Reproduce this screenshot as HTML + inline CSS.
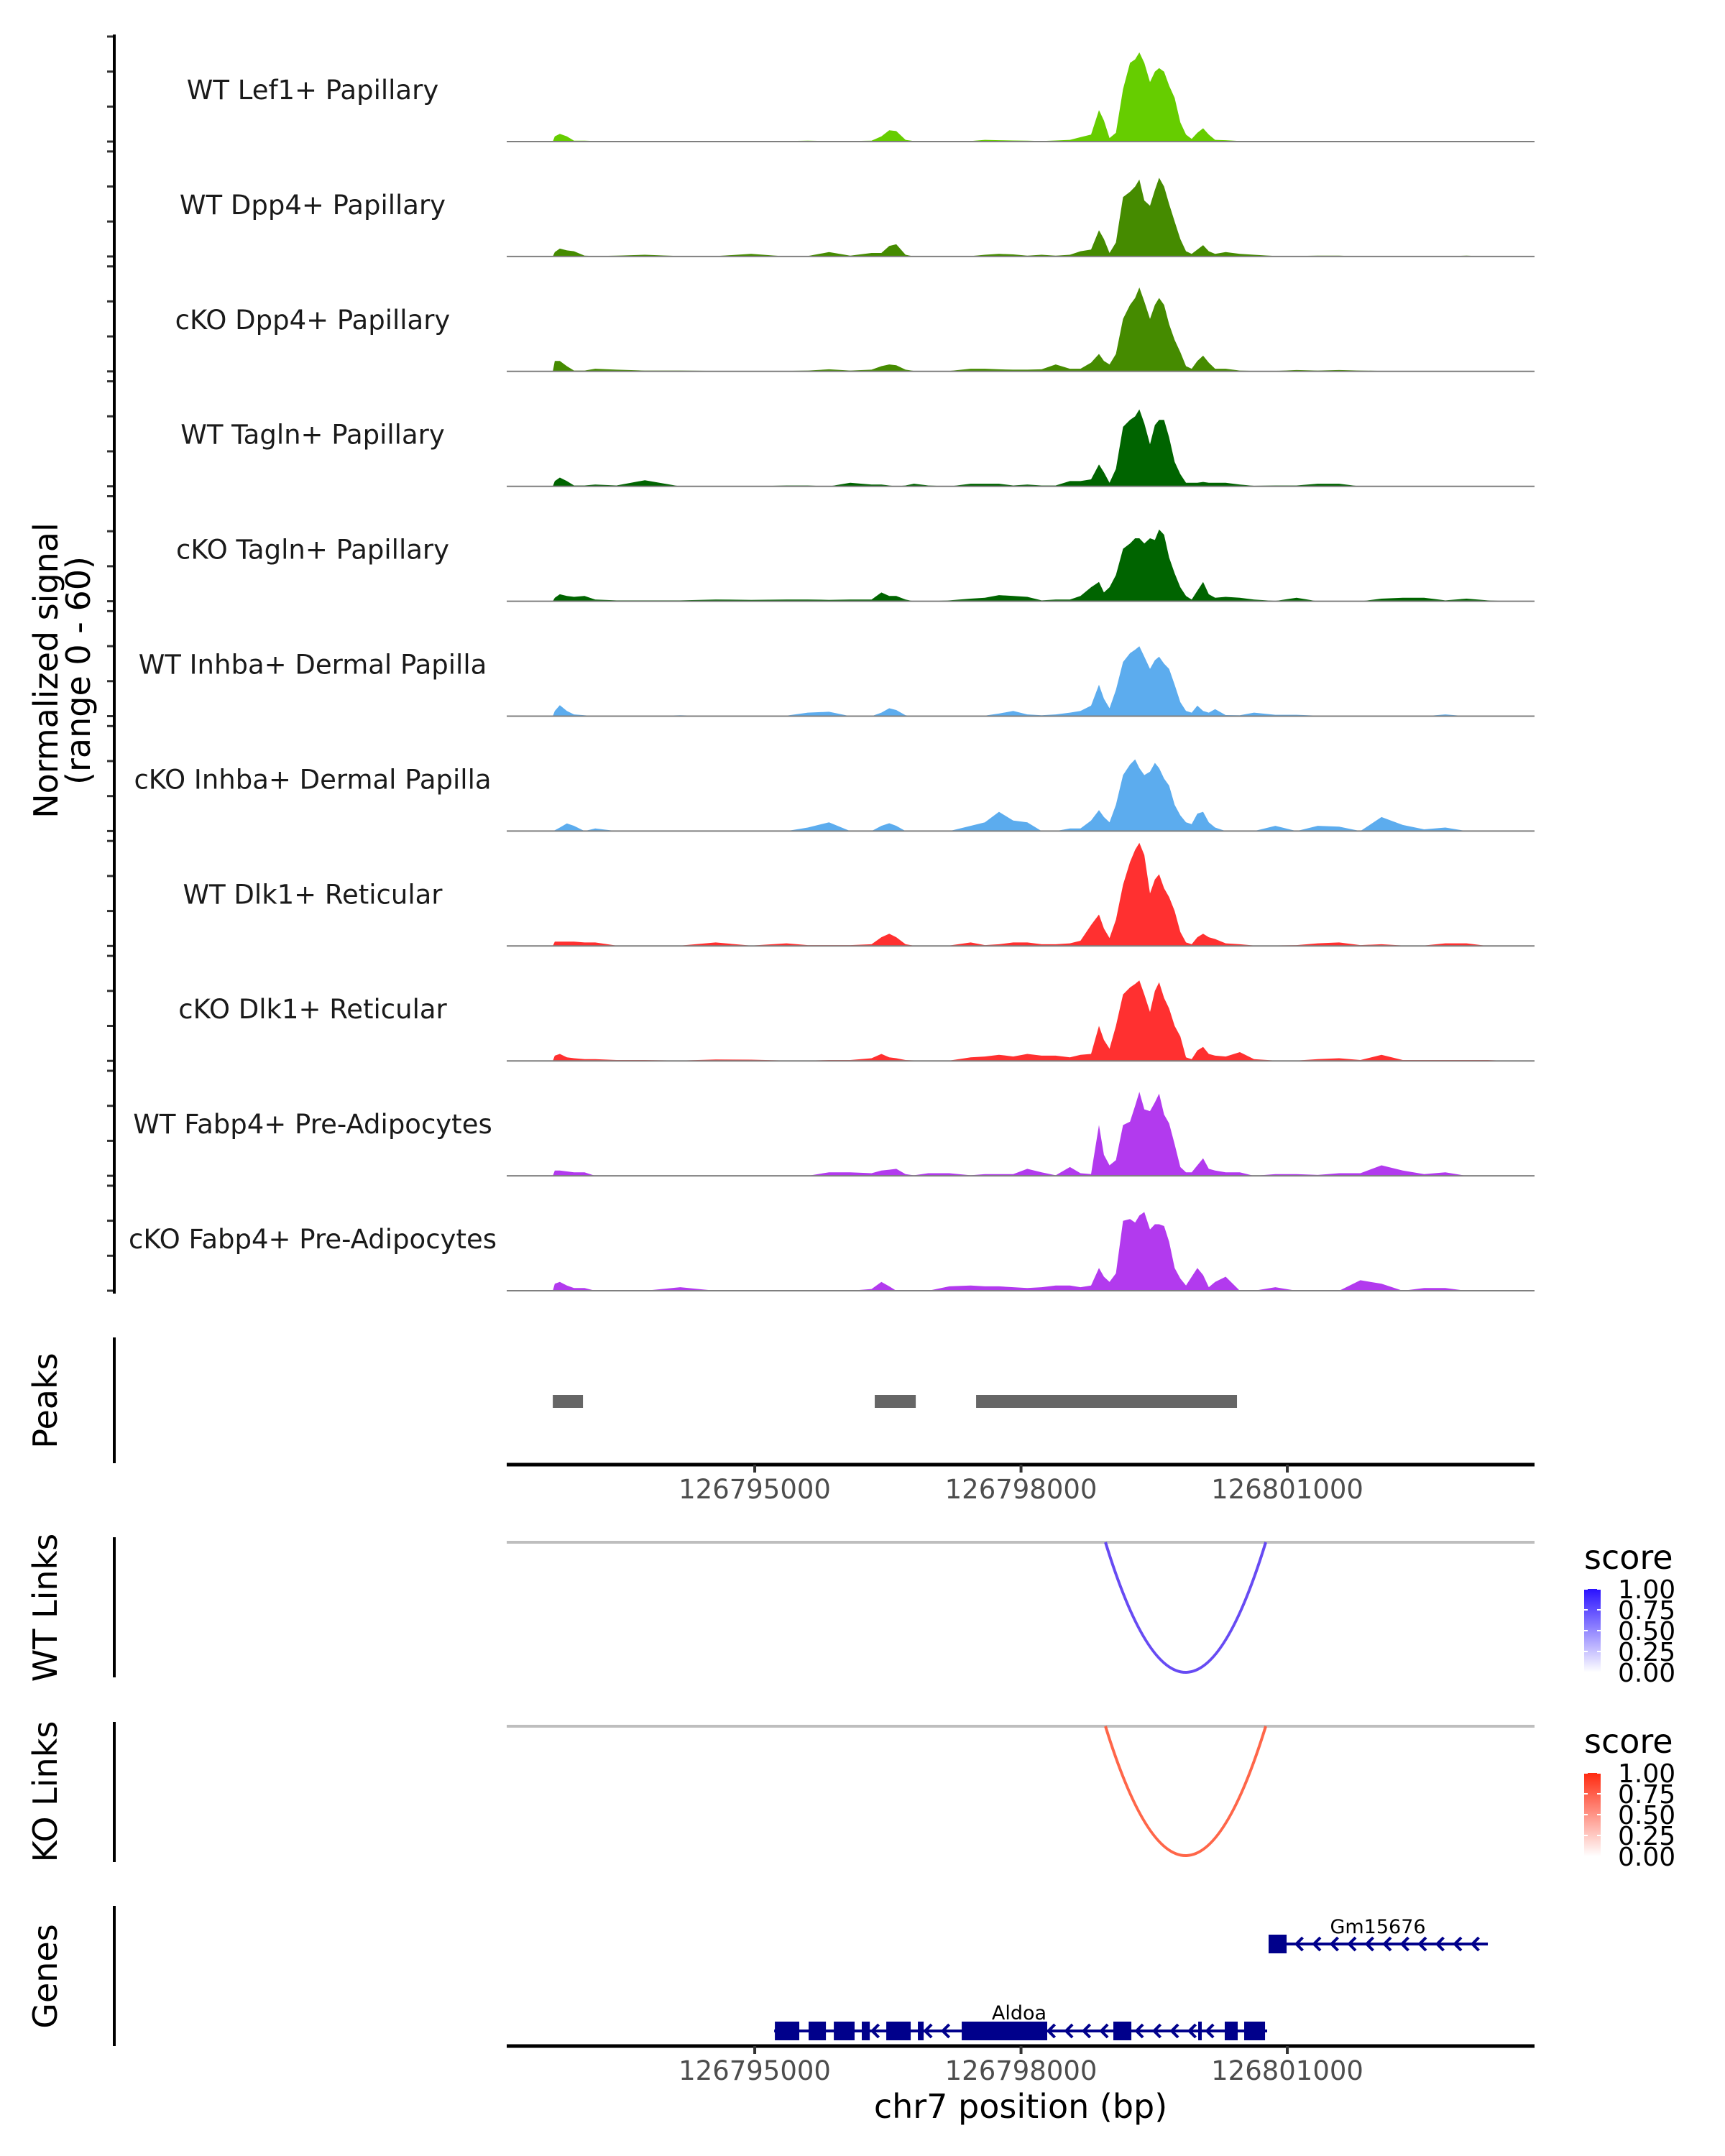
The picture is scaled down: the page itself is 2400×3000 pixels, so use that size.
<!DOCTYPE html>
<html><head><meta charset="utf-8"><style>
html,body{margin:0;padding:0;background:#fff}
svg{display:block}
text{font-family:"DejaVu Sans","Liberation Sans",sans-serif}
</style></head><body>
<svg id="chart" width="2400" height="3000" viewBox="0 0 2400 3000" xmlns="http://www.w3.org/2000/svg"></svg>
<script>
const positions=[126792210,126792725,126792748,126792804,126792884,126792964,126793083,126793203,126793443,126793762,126794161,126794560,126794959,126795358,126795598,126795837,126796076,126796316,126796427,126796515,126796595,126796699,126796794,126796955,126797193,126797433,126797593,126797752,126797912,126798071,126798232,126798391,126798551,126798670,126798789,126798878,126798934,126798997,126799069,126799149,126799228,126799285,126799333,126799389,126799453,126799508,126799556,126799612,126799668,126799731,126799795,126799859,126799923,126799987,126800051,126800115,126800187,126800306,126800465,126800625,126800865,126801104,126801343,126801583,126801823,126802061,126802301,126802541,126802780,126803019,126803259,126803499,126803785];
const trackNames=["WT Lef1+ Papillary","WT Dpp4+ Papillary","cKO Dpp4+ Papillary","WT Tagln+ Papillary","cKO Tagln+ Papillary","WT Inhba+ Dermal Papilla","cKO Inhba+ Dermal Papilla","WT Dlk1+ Reticular","cKO Dlk1+ Reticular","WT Fabp4+ Pre-Adipocytes","cKO Fabp4+ Pre-Adipocytes"];
const trackColors=["#66CD00","#458B00","#458B00","#006400","#006400","#5CACEE","#5CACEE","#FF3030","#FF3030","#B23AEE","#B23AEE"];
const sigLef1WT=[0,0,3,4.4,3,0.5,0.5,0.3,0.3,0.2,0.2,0,0.2,0.3,0.5,0.3,0.3,0.5,3,6.5,6,1,0.3,0.2,0.3,0.3,1,0.8,0.6,0.5,0.3,0.6,1,2.5,4,18,12,2,5,30,45,47,51,45,34,40,42,40,32,25,11,4,1.5,5,7.6,4,1,0.8,0.3,0.2,0.2,0.2,0.2,0.2,0.2,0.2,0.2,0.2,0.2,0,0,0,0];
const sigDpp4WT=[0,0,2.5,4.5,3.5,3,0.5,0.2,0.5,1,0.2,0.2,1.5,0,0.3,2.5,0.5,2,2,6,7,1,0,0,0,0.2,1,1.5,1.2,0.5,1,0.5,1,3,4,15,10,2,8,34,37,40,44,32,29,38,45,40,30,20,10,3,1.5,4,6.5,3,1.5,2.5,1.5,1,0.3,0.3,0.5,0.5,0,0,0,0,0,0.5,0,0,0];
const sigDpp4KO=[0,0,6,6,3,0.5,0.5,1.5,1,0.5,0.5,0.3,0.3,0.3,0.5,1.2,0.5,1,3,4,3.5,1,0.3,0.3,0.3,1.5,1.5,1.2,1,1,1.2,4,1.5,1.5,5,10,6,4,10,30,38,42,48,40,30,38,42,38,27,18,11,3,1.5,6,9,5,1.5,1.5,0.5,0.3,0.3,0.8,0.5,0.8,0.5,0.3,0.3,0.2,0.2,0.2,0,0,0];
const sigTaglnWT=[0,0,3,5,3,0.5,0.5,1,0.5,3.5,0,0,0,0.5,0.5,0,2,1,1,0.5,0,0.5,1.5,0.5,0,1.5,1.5,1.5,0.5,1,0.5,0.5,3,3,4,12.5,8,2,10,34,38,40,44,36,24,35,38,38,28,14,7,2,2,2,2.5,2,2,2,1,0.3,0.5,0.5,1.5,1.5,0,0,0,0,0,0,0,0,0];
const sigTaglnKO=[0,0,2,4,3,2.5,3,1,0.5,0.5,0.5,1,0.8,1,1,0.8,1,1,5,3,3,1,0,0,0.5,1.5,2,3.5,3,2.5,0.5,1,1,3,8,11,5,8,15,30,33,36,36,33,36,35,41,38,25,16,8,3,1,6,11,4,2,2.5,2,1,0.2,2,0,0,0,1.5,2,2,0.5,1.5,0.5,0,0];
const sigInhbaWT=[0,0,3,6.3,3,1,0.5,0,0,0,0.5,0,0,0.3,2,2.5,0,0,2,4.5,3.5,0.5,0,0.3,0.3,0,0.3,1.5,3,1,0.5,1,2,3,6,18,10,4.5,15,31,36,38,40,34,27,32,34,30,27,18,8,3,2,6,3,2,4,0.6,0.5,2,0.8,0.8,0.3,0,0.4,0,0,0,1,0,0,0,0];
const sigInhbaKO=[0,0,0.5,2,4.4,3,0,1.5,0,0,0,0,0,0,2,5,0,0,3,4.5,3,0,0,0,0,3,5,11,6,5,0,0,1.5,1.5,6,12,8,5,15,32,38,41,36,32,34,39,36,30,26,15,9,5,4,10,11,5,2,0,0,0,3,0,3,2.5,0,8,3.5,1,2,0,0,0,0];
const sigDlk1WT=[0,0,2.5,2.5,2.5,2.5,2,2,0.2,0.2,0.2,2,0.2,1.5,0.5,0.5,0.5,1,5,7,5,1,0.2,0.2,0.3,2,0.5,1,2,2,1,1,1.5,3,12,18,10,4.5,15,35,48,55,59,52,30,38,41,33,28,20,8,2,1,5,7,5,4,1.5,1,0.3,0.3,0.5,1.5,2,0.5,1,0.3,0.3,1.5,1.5,0,0,0];
const sigDlk1KO=[0,0,3,4,2,1.5,1,1,0.5,0.5,0.2,0.8,0.7,0.2,0.2,0.5,0.5,1.5,4,2,1.5,0.5,0.3,0.3,0.2,2,2.5,3.5,2.5,4,3,3,2,3.5,4,20,12,7,20,38,42,44,46,38,28,40,45,36,30,20,14,2,1,6,8,4,3,2.5,5,1,0.2,0.2,1,1.5,0.5,3.5,0.5,0.5,0.5,0.5,0.5,0,0];
const sigFabp4WT=[0,0,3,3,2.5,2,2,0,0,0,0,0,0,0,0,2,2,1.5,3,3.5,4,1,0.3,1.5,1.5,0.3,1,1,1,4,2,0.3,5,1.5,1,29,12,6,9,29,31,40,48,38,37,42,47,35,30,18,5,2,2,6,10,4,3,2,2,0,1,1,0.5,1.5,1.5,6,3,1,2,0,0,0,0];
const sigFabp4KO=[0,0,4,5,3,1.5,1.5,0,0,0,2,0,0,0,0,0,0,1,5,2.5,0,0,0,0,2.5,3,2.5,2.5,2,1.5,2,3,3,2,3,13,8,5,10,40,41,39,43,45,35,38,38,37,28,13,7,3,8,13,9,2,5,8,0,0,2,0,0,0,6,4,0,1.5,1.5,0,0,0,0];
const signals=[sigLef1WT,sigDpp4WT,sigDpp4KO,sigTaglnWT,sigTaglnKO,sigInhbaWT,sigInhbaKO,sigDlk1WT,sigDlk1KO,sigFabp4WT,sigFabp4KO];
const xTickValues=[126795000,126798000,126801000];
const xTickLabels=["126795000","126798000","126801000"];
const peakStarts=[126792725,126796352,126797494];
const peakEnds=[126793065,126796814,126800433];
const linkStarts=[126798951];
const linkEnds=[126800757];
const wtLinkScores=[0.85];
const koLinkScores=[0.85];
const legendTicks=["1.00","0.75","0.50","0.25","0.00"];
const geneNames=["Aldoa","Gm15676"];
const aldoaExonStarts=[126795227,126795607,126795891,126796206,126796482,126796838,126797332,126799040,126799996,126800295,126800514];
const aldoaExonEnds=[126795502,126795802,126796125,126796296,126796757,126796903,126798295,126799243,126800036,126800441,126800749];
const geneStarts=[126795219,126800789];
const geneEnds=[126800773,126803259];
const gmExonStarts=[126800789];
const gmExonEnds=[126800992];

const NS='http://www.w3.org/2000/svg';
const svg=document.getElementById('chart');
const X0=705,X1=2135,BP0=126792206,BP1=126803785;
function xs(bp){return X0+(bp-BP0)*(X1-X0)/(BP1-BP0);}
const UNIT=146/60;
function mk(tag,attrs,parent){const e=document.createElementNS(NS,tag);for(const k in attrs)e.setAttribute(k,attrs[k]);(parent||svg).appendChild(e);return e;}
function txt(s,attrs,parent){const e=mk('text',attrs,parent);e.textContent=s;return e;}

const baseY=i=>197+159.9*i;
for(let t=0;t<11;t++){
  const by=baseY(t);
  const g=mk('g',{});
  
  
  let d='M'+xs(positions[0]).toFixed(1)+','+by;
  for(let i=0;i<positions.length;i++){d+=' L'+xs(positions[i]).toFixed(1)+','+(by-signals[t][i]*UNIT).toFixed(1);}
  d+=' L'+xs(positions[positions.length-1]).toFixed(1)+','+by+' Z';
  const p=mk('path',{d:d,fill:trackColors[t],stroke:'none'},g);
  
  
  const bl=mk('line',{x1:X0,x2:X1,y1:by,y2:by,stroke:'#7f7f7f','stroke-width':2},g);
  
  
  const lb=txt(trackNames[t],{x:435,y:by-71+12,'font-size':37,'text-anchor':'middle',fill:'#1a1a1a'},g);
  
  
  for(let k=0;k<4;k++){
    const tk=mk('line',{x1:149,x2:159,y1:by-k*48.7,y2:by-k*48.7,stroke:'#333','stroke-width':3},g);
    
    
  }
}
const axSpans=[[48,1800,'signal-y-axis'],[1861,2036,'peaks-y-axis'],[2139,2334,'wt-links-y-axis'],[2396,2591,'ko-links-y-axis'],[2652,2847,'genes-y-axis']];
axSpans.forEach(a=>{const l=mk('line',{x1:159,x2:159,y1:a[0],y2:a[1],stroke:'#000','stroke-width':4});
  
  });
const yt=mk('text',{transform:'translate(80,933) rotate(-90)','font-size':46,'text-anchor':'middle',fill:'#000'});


const ts1=mk('tspan',{x:0,y:0},yt);ts1.textContent='Normalized signal';
const ts2=mk('tspan',{x:0,y:45},yt);ts2.textContent='(range 0 - 60)';
const panelTitles=[['Peaks',1949,'peaks-title'],['WT Links',2237,'wt-links-title'],['KO Links',2493,'ko-links-title'],['Genes',2750,'genes-title']];
panelTitles.forEach(p=>{const e=txt(p[0],{transform:'translate(79,'+p[1]+') rotate(-90)','font-size':46,'text-anchor':'middle',fill:'#000'});
  
  });

for(let i=0;i<peakStarts.length;i++){
  const r=mk('rect',{x:xs(peakStarts[i]),y:1941,width:xs(peakEnds[i])-xs(peakStarts[i]),height:18,fill:'#666666'});
  
  
}
function xAxis(y,name){
  const l=mk('line',{x1:X0,x2:X1,y1:y,y2:y,stroke:'#000','stroke-width':5});
  
  
  for(let i=0;i<xTickValues.length;i++){
    const x=xs(xTickValues[i]);
    const t=mk('line',{x1:x,x2:x,y1:y,y2:y+11,stroke:'#333','stroke-width':4});
    
    
    const lb=txt(xTickLabels[i],{x:x,y:y+47,'font-size':37,'text-anchor':'middle',fill:'#4d4d4d'});
    
    
  }
}
xAxis(2038,'peaks-x-axis');

function linkPanel(lineY,depth,scores,color,gradId,c1,legY,prefix){
  const gl=mk('line',{x1:X0,x2:X1,y1:lineY,y2:lineY,stroke:'#bebebe','stroke-width':4});
  
  
  for(let i=0;i<linkStarts.length;i++){
    const a=xs(linkStarts[i]),b=xs(linkEnds[i]),m=(a+b)/2;
    const p=mk('path',{d:'M'+a+','+lineY+' Q'+m+','+(lineY+2*depth)+' '+b+','+lineY,fill:'none',stroke:color,'stroke-width':4,opacity:0.5+0.5*scores[i]});
    
    
  }
  const defs=mk('defs',{});
  const lg=mk('linearGradient',{id:gradId,x1:0,y1:1,x2:0,y2:0},defs);
  mk('stop',{offset:0,'stop-color':'#ffffff'},lg);mk('stop',{offset:1,'stop-color':c1},lg);
  const st=txt('score',{x:2204,y:legY+14,'font-size':46,fill:'#000'});
  
  
  const bar=mk('rect',{x:2204,y:legY+42,width:23,height:116,fill:'url(#'+gradId+')'});
  
  
  for(let k=0;k<legendTicks.length;k++){
    const yy=legY+42+k*29;
    const lt=txt(legendTicks[k],{x:2251,y:yy+13,'font-size':36,fill:'#000'});
    
    
    mk('line',{x1:2204,x2:2209,y1:yy,y2:yy,stroke:'#fff','stroke-width':2});
    mk('line',{x1:2222,x2:2227,y1:yy,y2:yy,stroke:'#fff','stroke-width':2});
  }
}
linkPanel(2146,181,wtLinkScores,'#5b3cf2','gwt','#2a12ff',2169,'wt');
linkPanel(2402,180,koLinkScores,'#ff5a3a','gko','#ff2a10',2425,'ko');

function drawGene(idx,y,starts,ends,lblX,lblY){
  const g=mk('g',{});
  
  
  const a=xs(geneStarts[idx]),b=xs(geneEnds[idx]);
  mk('line',{x1:a,x2:b,y1:y,y2:y,stroke:'#00008B','stroke-width':4},g);
  for(let cx=a+18;cx<b-4;cx+=24.5){
    let inside=false;
    for(let i=0;i<starts.length;i++){if(cx>xs(starts[i])-8&&cx<xs(ends[i])+2)inside=true;}
    if(inside)continue;
    mk('polyline',{points:(cx+5)+','+(y-9)+' '+(cx-4)+','+y+' '+(cx+5)+','+(y+9),fill:'none',stroke:'#00008B','stroke-width':4},g);
  }
  for(let i=0;i<starts.length;i++){
    const r=mk('rect',{x:xs(starts[i]),y:y-13,width:Math.max(4,xs(ends[i])-xs(starts[i])),height:26,fill:'#00008B'},g);
    
    
  }
  const l=txt(geneNames[idx],{x:lblX,y:lblY,'font-size':27,'text-anchor':'middle',fill:'#000'},g);
  
  
}
drawGene(0,2826,aldoaExonStarts,aldoaExonEnds,1418,2810);
drawGene(1,2705,gmExonStarts,gmExonEnds,1917,2690);
xAxis(2847,'genes-x-axis');
const xt=txt('chr7 position (bp)',{x:1420,y:2947,'font-size':46,'text-anchor':'middle',fill:'#000'});


</script>
</body></html>
